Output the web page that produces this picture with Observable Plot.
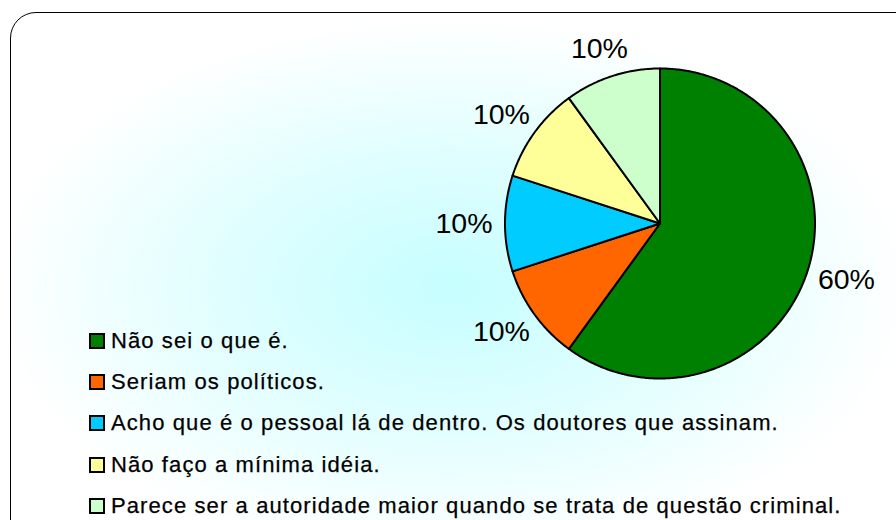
<!DOCTYPE html>
<html>
<head>
<meta charset="utf-8">
<script src="https://cdn.jsdelivr.net/npm/d3@7"></script>
<script src="https://cdn.jsdelivr.net/npm/@observablehq/plot@0.6"></script>
<style>
  html, body { margin: 0; padding: 0; background: #ffffff; }
  #wrap { position: relative; width: 896px; height: 520px; overflow: hidden; font-family: "Liberation Sans", Arial, sans-serif; }
  #frame { position: absolute; left: 10px; top: 12px; width: 920px; height: 540px; box-sizing: border-box;
    border: 1.5px solid #000; border-radius: 26px;
    background: radial-gradient(ellipse 460px 270px at 440px 275px, #c6feff 0%, #e0feff 50%, #ffffff 100%); }
  #chart { position: absolute; left: 0; top: 0; }
  #legend { position: absolute; left: 89px; top: 320px; }
  .row { display: flex; align-items: center; height: 41.3px; }
  .sw { width: 12px; height: 12px; border: 2px solid #000; margin-right: 6px; flex: none; }
  .lab { font-size: 22px; letter-spacing: 1.1px; color: #000; white-space: nowrap; line-height: 1; -webkit-text-stroke: 0.25px #000; }
  #chart text { -webkit-text-stroke: 0.25px #000; }
</style>
</head>
<body>
<div id="wrap">
  <div id="frame"></div>
  <div id="chart"></div>
  <div id="legend"></div>
</div>
<script>
const categories = [
  "Não sei o que é.",
  "Seriam os políticos.",
  "Acho que é o pessoal lá de dentro. Os doutores que assinam.",
  "Não faço a mínima idéia.",
  "Parece ser a autoridade maior quando se trata de questão criminal."
];
const values = [60, 10, 10, 10, 10];
const valueLabels = ["60%", "10%", "10%", "10%", "10%"];
const colors = ["#008000", "#FF6600", "#00CCFF", "#FFFF99", "#CCFFCC"];

const data = categories.map((c, i) => ({label: c, value: values[i], text: valueLabels[i]}));
const arcs = d3.pie().sort(null).value(d => d.value)(data);

const cx = 659.5, cy = 223, r = 155;

// Build slice polygons in unit-circle data space (angle clockwise from 12 o'clock)
const polys = [];
arcs.forEach(a => {
  const n = Math.max(8, Math.ceil((a.endAngle - a.startAngle) / 0.01));
  polys.push({label: a.data.label, x: 0, y: 0});
  for (let k = 0; k <= n; k++) {
    const t = a.startAngle + (a.endAngle - a.startAngle) * k / n;
    polys.push({label: a.data.label, x: Math.sin(t), y: Math.cos(t)});
  }
});
// Outside-end labels: box edge placed just outside the circle
const labelGap = 172 / r, halfW = 24 / r, halfH = 12 / r;
const labels = arcs.map(a => {
  const m = (a.startAngle + a.endAngle) / 2;
  const dx = Math.sin(m), dy = Math.cos(m);
  return {text: a.data.text, x: labelGap * dx + halfW * dx, y: labelGap * dy + halfH * dy};
});

const chart = Plot.plot({
  width: 896, height: 520,
  margin: 0,
  style: {background: "transparent", overflow: "visible"},
  x: {domain: [-1, 1], range: [cx - r, cx + r], axis: null},
  y: {domain: [-1, 1], range: [cy + r, cy - r], axis: null},
  color: {domain: categories, range: colors},
  marks: [
    Plot.line(polys, {x: "x", y: "y", z: "label", fill: "label", stroke: "#000", strokeWidth: 2, curve: "linear-closed", strokeLinejoin: "round"}),
    Plot.text(labels, {x: "x", y: "y", text: "text", fontSize: 28.5, fill: "#000", fontFamily: "Liberation Sans, Arial, sans-serif", textAnchor: "middle", lineAnchor: "middle"})
  ]
});
document.getElementById("chart").appendChild(chart);

const legend = document.getElementById("legend");
categories.forEach((c, i) => {
  const row = document.createElement("div");
  row.className = "row";
  const sw = document.createElement("div");
  sw.className = "sw";
  sw.style.background = colors[i];
  const lab = document.createElement("div");
  lab.className = "lab";
  lab.textContent = c;
  row.appendChild(sw);
  row.appendChild(lab);
  legend.appendChild(row);
});
</script>
</body>
</html>
